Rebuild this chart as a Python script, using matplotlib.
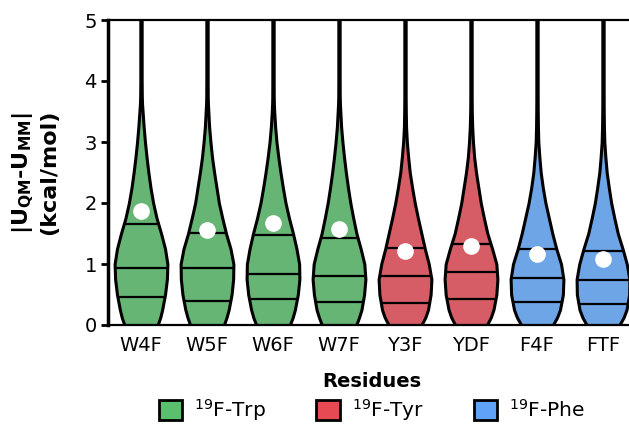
import numpy as np
import matplotlib
matplotlib.use("Agg")
import matplotlib.pyplot as plt
from matplotlib.patches import Patch

# Data
residues = ["W4F", "W5F", "W6F", "W7F", "Y3F", "YDF", "F4F", "FTF"]
groups = ["Trp", "Trp", "Trp", "Trp", "Tyr", "Tyr", "Phe", "Phe"]

q1 = [0.46, 0.40, 0.42, 0.38, 0.36, 0.42, 0.37, 0.34]
medians = [0.94, 0.94, 0.84, 0.80, 0.80, 0.87, 0.77, 0.73]
q3 = [1.66, 1.51, 1.48, 1.42, 1.27, 1.33, 1.24, 1.21]
means = [1.87, 1.56, 1.67, 1.57, 1.21, 1.30, 1.17, 1.09]

# relative violin half-width at each y level
levels = [0, 0.125, 0.25, 0.5, 0.75, 1.0, 1.25, 1.5, 1.75, 2.0, 2.25, 2.5, 2.75, 3.0, 3.25, 3.5, 3.625, 3.75, 4.0, 5.0]
dens_W4F = [0.63, 0.73, 0.80, 0.91, 0.98, 1.00, 0.91, 0.76, 0.59, 0.46, 0.36, 0.28, 0.21, 0.15, 0.10, 0.06, 0.04, 0.03, 0.025, 0.025]
dens_W5F = [0.64, 0.74, 0.82, 0.93, 0.99, 1.00, 0.89, 0.72, 0.58, 0.45, 0.36, 0.27, 0.19, 0.13, 0.08, 0.05, 0.035, 0.028, 0.025, 0.025]
dens_W6F = [0.63, 0.74, 0.82, 0.93, 0.99, 0.98, 0.88, 0.75, 0.60, 0.47, 0.37, 0.28, 0.20, 0.13, 0.08, 0.045, 0.033, 0.027, 0.025, 0.025]
dens_W7F = [0.65, 0.76, 0.85, 0.95, 1.00, 0.96, 0.82, 0.66, 0.54, 0.43, 0.34, 0.26, 0.19, 0.13, 0.08, 0.05, 0.035, 0.028, 0.025, 0.025]
dens_Y3F = [0.62, 0.77, 0.87, 0.97, 1.00, 0.90, 0.75, 0.62, 0.49, 0.37, 0.27, 0.18, 0.12, 0.07, 0.04, 0.03, 0.027, 0.025, 0.025, 0.025]
dens_YDF = [0.60, 0.75, 0.85, 0.96, 1.00, 0.96, 0.80, 0.62, 0.49, 0.37, 0.28, 0.19, 0.12, 0.075, 0.045, 0.03, 0.027, 0.025, 0.025, 0.025]
dens_F4F = [0.60, 0.76, 0.87, 0.98, 1.00, 0.91, 0.73, 0.58, 0.45, 0.32, 0.22, 0.14, 0.09, 0.05, 0.035, 0.028, 0.026, 0.025, 0.025, 0.025]
dens_FTF = [0.62, 0.78, 0.89, 0.99, 1.00, 0.90, 0.74, 0.56, 0.43, 0.31, 0.22, 0.14, 0.09, 0.05, 0.035, 0.028, 0.026, 0.025, 0.025, 0.025]
densities = [dens_W4F, dens_W5F, dens_W6F, dens_W7F, dens_Y3F, dens_YDF, dens_F4F, dens_FTF]

violin_colors = {"Trp": "#66B574", "Tyr": "#D65D66", "Phe": "#6EA5E6"}
legend_colors = {"Trp": "#5AC06E", "Tyr": "#E84A53", "Phe": "#5FA2F7"}
legend_labels = {"Trp": "$^{19}$F-Trp", "Tyr": "$^{19}$F-Tyr", "Phe": "$^{19}$F-Phe"}

plt.rcParams["font.family"] = "DejaVu Sans"
plt.rcParams["font.size"] = 14

fig = plt.figure(figsize=(6.29, 4.30), dpi=100)
ax = fig.add_axes([108 / 629, 1 - 325 / 430, 528 / 629, 305 / 430])

width = 0.8
positions = np.arange(len(residues))

stats = []
for i in range(len(residues)):
    stats.append({
        "coords": np.array(levels),
        "vals": np.array(densities[i]),
        "mean": means[i],
        "median": medians[i],
        "min": levels[0],
        "max": levels[-1],
    })

parts = ax.violin(stats, positions=positions, widths=width,
                  showmeans=False, showextrema=False, showmedians=False)
for body, g in zip(parts["bodies"], groups):
    body.set_facecolor(violin_colors[g])
    body.set_edgecolor("black")
    body.set_linewidth(2.2)
    body.set_joinstyle("round")
    body.set_alpha(1)
    body.set_zorder(2)

# quartile lines across the violin
for i in range(len(residues)):
    d = np.array(densities[i]) / max(densities[i])
    for q in (q1[i], medians[i], q3[i]):
        hw = 0.5 * width * np.interp(q, levels, d)
        ax.hlines(q, positions[i] - hw, positions[i] + hw, color="black",
                  linewidth=1.6, zorder=3)

ax.plot(positions, means, "o", color="white", markersize=12, zorder=4,
        markeredgewidth=0)

ax.set_xlim(-0.5, len(residues) - 0.5)
ax.set_ylim(0, 5)
ax.set_xticks(positions)
ax.set_xticklabels(residues)
ax.set_yticks(range(6))
ax.tick_params(axis="x", length=0, pad=8)
ax.tick_params(axis="y", length=5, width=2, pad=3)

ax.spines["left"].set_linewidth(2.5)
for s in ("top", "bottom", "right"):
    ax.spines[s].set_linewidth(1.6)

ax.set_xlabel("Residues", fontweight="bold", labelpad=12)
ax.set_ylabel("|U$_\\mathbf{QM}$-U$_\\mathbf{MM}$|\n(kcal/mol)", fontweight="bold",
              fontsize=16, labelpad=18)

handles = [Patch(facecolor=legend_colors[g], edgecolor="black", linewidth=2, label=legend_labels[g])
           for g in ("Trp", "Tyr", "Phe")]
fig.legend(handles=handles, loc="lower center", bbox_to_anchor=(372 / 629, -0.025), ncol=3,
           frameon=False, handlelength=1.15, handleheight=1.15, handletextpad=0.6,
           columnspacing=2.5, fontsize=14.5)

fig.savefig("out.png", dpi=100)
